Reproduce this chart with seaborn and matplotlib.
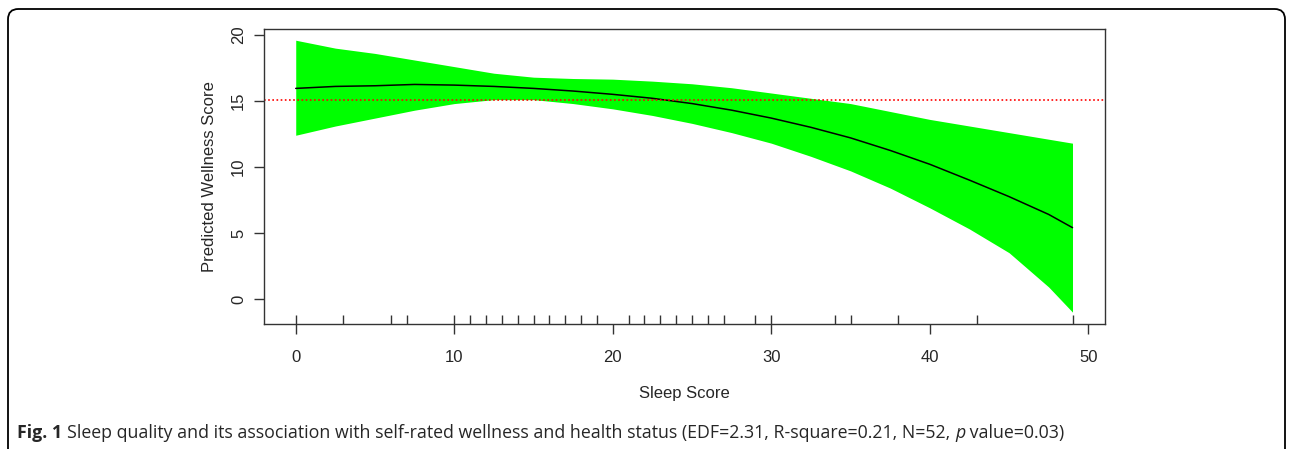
import numpy as np
import pandas as pd
import matplotlib
matplotlib.use("Agg")
import matplotlib.pyplot as plt
import seaborn as sns
from matplotlib.patches import FancyBboxPatch

# Sleep score grid and fitted GAM curve with its confidence band
sleep_score = [0, 2.5, 5, 7.5, 10, 12.5, 15, 17.5, 20, 22.5, 25, 27.5,
               30, 32.5, 35, 37.5, 40, 42.5, 45, 47.5, 49]
fit = [15.95, 16.1, 16.15, 16.25, 16.2, 16.1, 15.95, 15.75, 15.5, 15.2, 14.8, 14.3,
       13.7, 13.0, 12.2, 11.25, 10.2, 9.0, 7.75, 6.4, 5.4]
upper = [19.6, 19.0, 18.6, 18.1, 17.6, 17.1, 16.8, 16.7, 16.65, 16.5, 16.3, 16.0,
         15.6, 15.2, 14.8, 14.2, 13.6, 13.1, 12.6, 12.1, 11.8]
lower = [12.4, 13.1, 13.7, 14.3, 14.8, 15.1, 15.1, 14.8, 14.4, 13.9, 13.3, 12.6,
         11.8, 10.8, 9.7, 8.4, 6.9, 5.3, 3.5, 0.9, -1.0]
mean_wellness = 15.1

# observed sleep scores (rug)
rug_scores = [0, 3, 6, 7, 10, 11, 12, 13, 14, 15, 16, 17, 18, 19, 21, 22, 23, 24,
              25, 26, 27, 29, 30, 34, 35, 38, 43, 49]

x_ticks = [0, 10, 20, 30, 40, 50]
y_ticks = [0, 5, 10, 15, 20]

caption_bold = "Fig. 1"
caption_text = ("Sleep quality and its association with self-rated wellness and health status "
                "(EDF=2.31, R-square=0.21, N=52, ")
caption_tail = " value=0.03)"

df = pd.DataFrame({"sleep": sleep_score, "fit": fit, "upper": upper, "lower": lower})

sns.set_style("white")
plt.rcParams["font.family"] = ["Liberation Sans Narrow", "Liberation Sans", "DejaVu Sans"]

fig = plt.figure(figsize=(12.93, 4.49), dpi=100)
ax = fig.add_axes([0.2042, 0.2784, 0.8546 - 0.2042, 0.9354 - 0.2784])

ax.fill_between(df["sleep"], df["lower"], df["upper"], color="#00ff00", lw=0)
sns.lineplot(data=df, x="sleep", y="fit", color="black", lw=1.1, ax=ax)
ax.axhline(mean_wellness, color="red", ls=(0, (1, 1.5)), lw=1.2)
sns.rugplot(x=rug_scores, height=0.03, color="#333333", lw=1.1, ax=ax)

ax.set_xlim(-2.0, 51.05)
ax.set_ylim(-1.9, 20.45)
ax.set_xticks(x_ticks)
ax.set_yticks(y_ticks)
ax.tick_params(axis="both", direction="out", length=7, width=1, color="#333333",
               labelsize=12, bottom=True, left=True)
ax.tick_params(axis="x", pad=12)
ax.tick_params(axis="y", pad=6)
for lab in ax.get_yticklabels():
    lab.set_rotation(90)
    lab.set_va("center")
for sp in ax.spines.values():
    sp.set_color("#333333")
    sp.set_linewidth(1)

ax.set_xlabel("Sleep Score", fontsize=12, labelpad=15)
ax.set_ylabel("Predicted Wellness Score", fontsize=12, labelpad=10)

# rounded frame around the figure
frame = FancyBboxPatch((8 / 1293, -0.1), 1277 / 1293, 1.1 - 9 / 449,
                       boxstyle="round,pad=0,rounding_size=0.008",
                       transform=fig.transFigure, fc="none", ec="black", lw=1.3,
                       mutation_aspect=1293 / 449)
fig.patches.append(frame)

cap_font = ["Open Sans", "DejaVu Sans"]
cap_size = 12.8
t1 = fig.text(17 / 1293, 1 - 433 / 449, caption_bold, fontsize=cap_size, fontweight="bold",
              family=cap_font, va="center", ha="left")
fig.canvas.draw()
bb = t1.get_window_extent()
t2 = fig.text((bb.x1 + 5) / 1293, 1 - 433 / 449, caption_text, fontsize=cap_size,
              family=cap_font, va="center", ha="left")
bb = t2.get_window_extent()
t3 = fig.text(bb.x1 / 1293, 1 - 433 / 449, "p", fontsize=cap_size, style="italic",
              family=cap_font, va="center", ha="left")
bb = t3.get_window_extent()
fig.text(bb.x1 / 1293, 1 - 433 / 449, caption_tail, fontsize=cap_size,
         family=cap_font, va="center", ha="left")

fig.savefig("out.png", dpi=100)
